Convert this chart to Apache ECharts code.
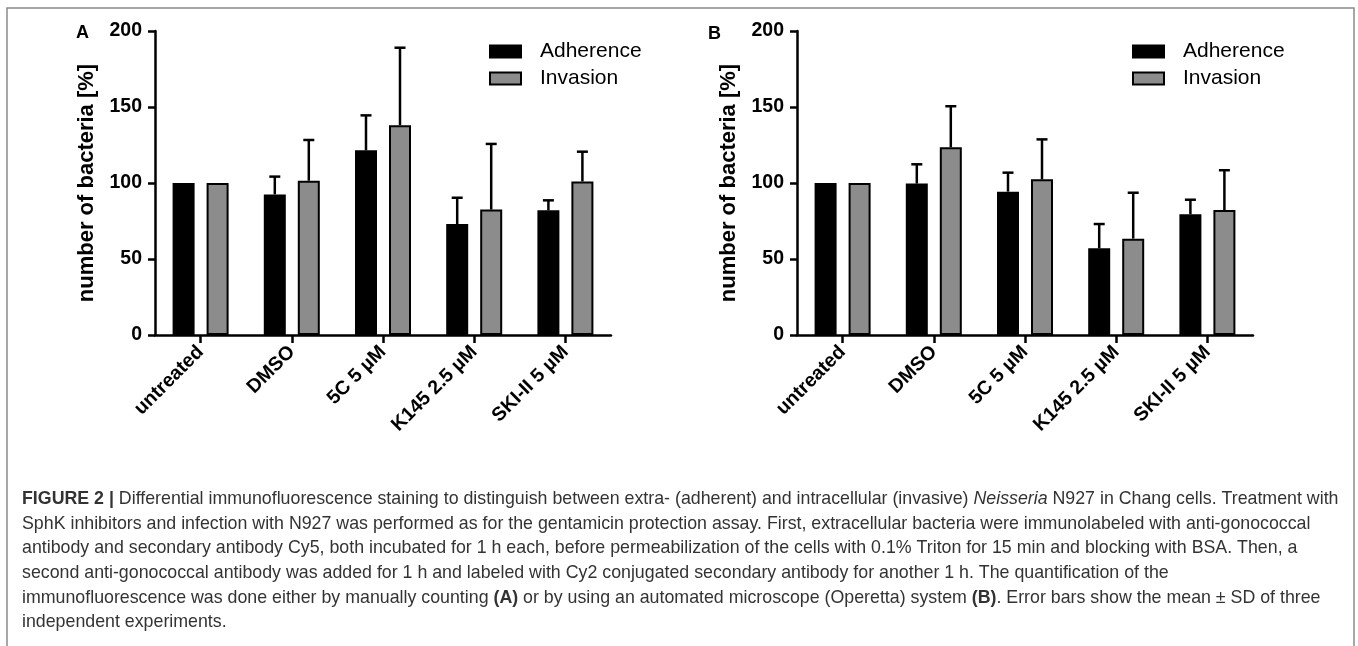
<!DOCTYPE html>
<html><head><meta charset="utf-8">
<script src="https://cdn.jsdelivr.net/npm/echarts@6/dist/echarts.min.js"></script>
<style>html,body{margin:0;padding:0;background:#fff}#c{width:1358px;height:646px}</style>
</head><body><div id="c"></div>
<script>
// ---- data ----
const categories = ['untreated', 'DMSO', '5C 5 µM', 'K145 2.5 µM', 'SKI-II 5 µM'];
const yTicks = [0, 50, 100, 150, 200];
const seriesNames = ['Adherence', 'Invasion'];
const adherenceA = [100, 92.5, 121.5, 73, 82];
const adherenceA_sd = [0, 11.7, 23, 17.3, 6.6];
const invasionA = [100, 101.5, 138, 82.5, 101];
const invasionA_sd = [0, 26.8, 51, 43.2, 19.6];
const adherenceB = [100, 99.6, 94.3, 57, 79.4];
const adherenceB_sd = [0, 12.7, 12.5, 16, 9.6];
const invasionB = [100, 123.5, 102.4, 63.4, 82.2];
const invasionB_sd = [0, 27, 26.3, 30.2, 26.2];
const panelLabels = ['A', 'B'];
const yAxisTitle = 'number of bacteria [%]';
const captionLines = [
  '{b|FIGURE 2 |} Differential immunofluorescence staining to distinguish between extra- (adherent) and intracellular (invasive) {i|Neisseria} N927 in Chang cells. Treatment with',
  'SphK inhibitors and infection with N927 was performed as for the gentamicin protection assay. First, extracellular bacteria were immunolabeled with anti-gonococcal',
  'antibody and secondary antibody Cy5, both incubated for 1 h each, before permeabilization of the cells with 0.1% Triton for 15 min and blocking with BSA. Then, a',
  'second anti-gonococcal antibody was added for 1 h and labeled with Cy2 conjugated secondary antibody for another 1 h. The quantification of the',
  'immunofluorescence was done either by manually counting {b|(A)} or by using an automated microscope (Operetta) system {b|(B)}. Error bars show the mean ± SD of three',
  'independent experiments.'
];

// ---- style constants ----
const FONT = "'Liberation Sans', Arial, Helvetica, sans-serif";
const BAR_W = 22, BAR_GAP_PX = 12, CAP_W = 11, LW = 2.5;
const BAR_OFFSET = (BAR_W + BAR_GAP_PX) / 2;
const GREY = '#8c8c8c';
const CAP_FS = 17.8, CAP_LH = 24.6;

const chart = echarts.init(document.getElementById('c'));

function errRender(sign) {
  return function (params, api) {
    const i = api.value(0), v = api.value(1), sd = api.value(2);
    if (!sd) return null;
    const base = api.coord([i, v]);
    const top = api.coord([i, v + sd]);
    const x = base[0] + sign * BAR_OFFSET;
    return {
      type: 'group', children: [
        { type: 'line', shape: { x1: x, y1: base[1], x2: x, y2: top[1] }, style: { stroke: '#000', lineWidth: LW } },
        { type: 'line', shape: { x1: x - CAP_W / 2, y1: top[1], x2: x + CAP_W / 2, y2: top[1] }, style: { stroke: '#000', lineWidth: LW } }
      ]
    };
  };
}

function xAxisDef(gi) {
  return {
    type: 'category', gridIndex: gi, data: categories,
    axisLine: { show: true, lineStyle: { color: '#000', width: LW } },
    axisTick: { show: true, alignWithLabel: true, length: 8, lineStyle: { color: '#000', width: LW } },
    axisLabel: { rotate: 45, margin: 14, fontSize: 19.5, fontWeight: 'bold', color: '#000', fontFamily: FONT, interval: 0 },
    splitLine: { show: false }
  };
}
function yAxisDef(gi) {
  return {
    type: 'value', gridIndex: gi, min: yTicks[0], max: yTicks[yTicks.length - 1], interval: yTicks[1] - yTicks[0],
    name: yAxisTitle, nameLocation: 'middle', nameGap: 57,
    nameTextStyle: { fontSize: 22, fontWeight: 'bold', color: '#000', fontFamily: FONT },
    axisLine: { show: true, lineStyle: { color: '#000', width: LW } },
    axisTick: { show: true, length: 7, lineStyle: { color: '#000', width: LW } },
    axisLabel: { margin: 13, fontSize: 19.5, fontWeight: 'bold', color: '#000', fontFamily: FONT },
    splitLine: { show: false }
  };
}
function barSeries(name, data, gi, color) {
  return {
    type: 'bar', name: name, xAxisIndex: gi, yAxisIndex: gi, data: data,
    barWidth: BAR_W, barGap: (BAR_GAP_PX / BAR_W * 100) + '%',
    itemStyle: { color: color, borderColor: '#000', borderWidth: 2 },
    emphasis: { disabled: true }, z: 3
  };
}
function errSeries(vals, sds, gi, sign) {
  return {
    type: 'custom', xAxisIndex: gi, yAxisIndex: gi, z: 2,
    renderItem: errRender(sign),
    data: categories.map((c, i) => [i, vals[i], sds[i]]),
    silent: true
  };
}
function legendDef(left) {
  return {
    left: left, top: 41, padding: 0, orient: 'vertical', icon: 'rect', itemWidth: 31, itemHeight: 12, itemGap: 6,
    data: seriesNames, selectedMode: false,
    textStyle: { fontSize: 21, color: '#000', fontFamily: FONT, padding: [0, 0, 0, 14] }
  };
}

chart.setOption({
  animation: false,
  backgroundColor: '#fff',
  grid: [
    { left: 155, top: 31, width: 456, height: 304, outerBoundsMode: 'none', containLabel: false },
    { left: 797, top: 31, width: 456, height: 304, outerBoundsMode: 'none', containLabel: false }
  ],
  xAxis: [xAxisDef(0), xAxisDef(1)],
  yAxis: [yAxisDef(0), yAxisDef(1)],
  legend: [legendDef(489), legendDef(1132)],
  series: [
    barSeries(seriesNames[0], adherenceA, 0, '#000'),
    barSeries(seriesNames[1], invasionA, 0, GREY),
    errSeries(adherenceA, adherenceA_sd, 0, -1),
    errSeries(invasionA, invasionA_sd, 0, 1),
    barSeries(seriesNames[0], adherenceB, 1, '#000'),
    barSeries(seriesNames[1], invasionB, 1, GREY),
    errSeries(adherenceB, adherenceB_sd, 1, -1),
    errSeries(invasionB, invasionB_sd, 1, 1)
  ],
  graphic: [
    { type: 'rect', shape: { x: 7, y: 8, width: 1347, height: 700 }, style: { fill: 'none', stroke: '#8a8a8a', lineWidth: 1.5 }, silent: true },
    { type: 'text', x: 82.5, y: 33, style: { text: panelLabels[0], font: 'bold 18px ' + FONT, fill: '#000', align: 'center', verticalAlign: 'middle' } },
    { type: 'text', x: 714.5, y: 34, style: { text: panelLabels[1], font: 'bold 18px ' + FONT, fill: '#000', align: 'center', verticalAlign: 'middle' } },
    {
      type: 'text', x: 22, y: 487, silent: true,
      style: {
        text: captionLines.join('\n'),
        fontFamily: FONT, fontSize: CAP_FS, lineHeight: CAP_LH, fill: '#333',
        rich: {
          b: { fontFamily: FONT, fontSize: CAP_FS, fontWeight: 'bold', lineHeight: CAP_LH, fill: '#333' },
          i: { fontFamily: FONT, fontSize: CAP_FS, fontStyle: 'italic', lineHeight: CAP_LH, fill: '#333' }
        }
      }
    }
  ]
});
</script></body></html>
